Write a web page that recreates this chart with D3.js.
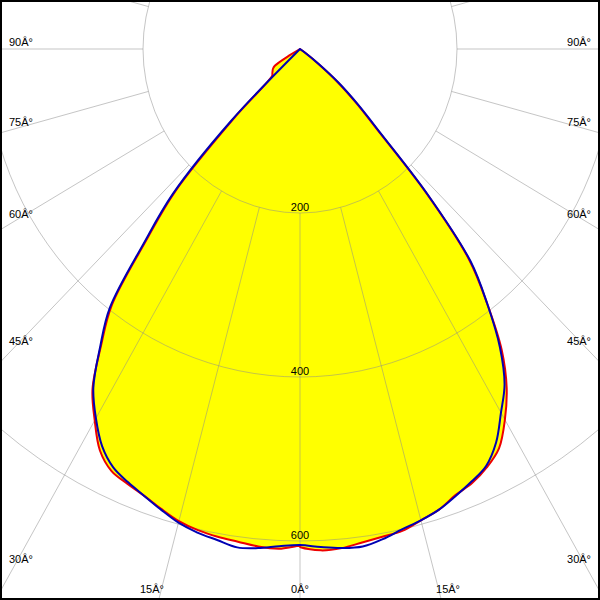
<!DOCTYPE html>
<html><head><meta charset="utf-8">
<script src="https://cdn.jsdelivr.net/npm/d3@7"></script>
<style>html,body{margin:0;padding:0;background:#fff}svg{display:block}</style>
</head><body><svg id="c" width="600" height="600"></svg>
<script>
// gamma angles (degrees from nadir), one half-plane
const angles = [0,2.5,5,7.5,10,12.5,15,17.5,20,22.5,25,27.5,30,32.5,35,37.5,40,42.5,45,47.5,50,52.5,55,57.5,60,62.5,65,67.5,70,72.5,75,77.5,80,82.5,85,87.5,90];
// luminous intensity (cd)
const redLeft   = [606,610,609,606,604,601,596,588,580,574,568,552,523,492,442,394,305,235,115,48,46,44,42,38,15,0,0,0,0,0,0,0,0,0,0,0,0];
const redRight  = [607,612,611,607,604,602,595,589,579,573,563,549,522,490,448,392,335,238,140,96,62,27,6,0,0,0,0,0,0,0,0,0,0,0,0,0,0];
const blueLeft  = [605,607,611,613,608,604,598,589,580,572,563,546,520,490,444,398,310,240,125,0,0,0,0,0,0,0,0,0,0,0,0,0,0,0,0,0,0];
const blueRight = [605,608,611,612,607,600,595,589,580,571,561,541,512,485,444,392,338,241,145,100,65,30,8,0,0,0,0,0,0,0,0,0,0,0,0,0,0];
const ringValues = [200,400,600];
const ringLabels = ["200","400","600"];
const labelAngles = [0,15,30,45,60,75,90];
const labelTexts = ["0Â°","15Â°","30Â°","45Â°","60Â°","75Â°","90Â°"];

const W = 600, H = 600, cx = 300, cy = 49;
const svg = d3.select("#c");
const sx = d3.scaleLinear().domain([0,600]).range([0,471]);
const sy = d3.scaleLinear().domain([0,600]).range([0,492]);
const rad = d => d*Math.PI/180;
const pt = (g, I) => [cx + sx(I)*Math.sin(rad(g)), cy + sy(I)*Math.cos(rad(g))];

function curvePoints(left, right){
  const p = [];
  for (let i = angles.length-1; i >= 0; i--) p.push(pt(-angles[i], left[i]));
  for (let i = 0; i < angles.length; i++) p.push(pt(angles[i], right[i]));
  // drop consecutive duplicates (all zero-intensity points sit at the origin)
  return p.filter((d,i)=> i===0 || Math.hypot(d[0]-p[i-1][0], d[1]-p[i-1][1]) > 1e-6);
}
const line = d3.line().x(d=>d[0]).y(d=>d[1]).curve(d3.curveCatmullRom.alpha(0.5));
const path = pts => line(pts) + "Z";
const redPts = curvePoints(redLeft, redRight);
const bluePts = curvePoints(blueLeft, blueRight);

// fill
svg.append("path").attr("d", path(redPts)).attr("fill","#ffff00").attr("stroke","none");

// grid
const grid = svg.append("g").attr("fill","none").attr("stroke","#8c8c8c").attr("stroke-opacity",0.5).attr("stroke-width",1);
ringValues.forEach(v=>{
  grid.append("ellipse").attr("cx",cx).attr("cy",cy).attr("rx",sx(v)).attr("ry",sy(v));
});
d3.range(0,360,15).forEach(a=>{
  const p0 = pt(a, ringValues[0]), p1 = pt(a, 1500);
  grid.append("line").attr("x1",p0[0]).attr("y1",p0[1]).attr("x2",p1[0]).attr("y2",p1[1]);
});

// curves
svg.append("path").attr("d", path(redPts)).attr("fill","none").attr("stroke","#ee0000").attr("stroke-width",2).attr("stroke-linejoin","round");
svg.append("path").attr("d", path(bluePts)).attr("fill","none").attr("stroke","#0000b4").attr("stroke-width",2).attr("stroke-linejoin","round");

// labels
const font = "'Liberation Sans', Arial, sans-serif";
ringValues.forEach((v,i)=>{
  svg.append("text").attr("x",cx).attr("y",cy+sy(v)-2).attr("text-anchor","middle")
    .attr("font-family",font).attr("font-size",11).attr("fill","#000").text(ringLabels[i]);
});
labelAngles.forEach((a,i)=>{
  const sides = a===0 ? [1] : [-1,1];
  sides.forEach(s=>{
    const ux = Math.sin(rad(a))*sx(1), uy = Math.cos(rad(a))*sy(1);
    const n = Math.hypot(ux,uy);
    const tx = ux>1e-9 ? (W/2)/ux : Infinity;
    const ty = uy>1e-9 ? (H-cy)/uy : Infinity;
    let x, y, anchor;
    if (tx < ty){
      const ey = cy + uy*tx;
      y = ey - 3 - 14*(uy/ux);
      x = s<0 ? 9 : 591; anchor = s<0 ? "start" : "end";
    } else {
      const ex = cx + s*ux*ty;
      x = ex + s*27*(ux/n); y = 593; anchor = "middle";
    }
    svg.append("text").attr("x",x).attr("y",y).attr("text-anchor",anchor)
      .attr("font-family",font).attr("font-size",11).attr("fill","#000").text(labelTexts[i]);
  });
});

// frame
svg.append("rect").attr("x",1).attr("y",1).attr("width",598).attr("height",598)
  .attr("fill","none").attr("stroke","#000").attr("stroke-width",2);
</script>
</body></html>
